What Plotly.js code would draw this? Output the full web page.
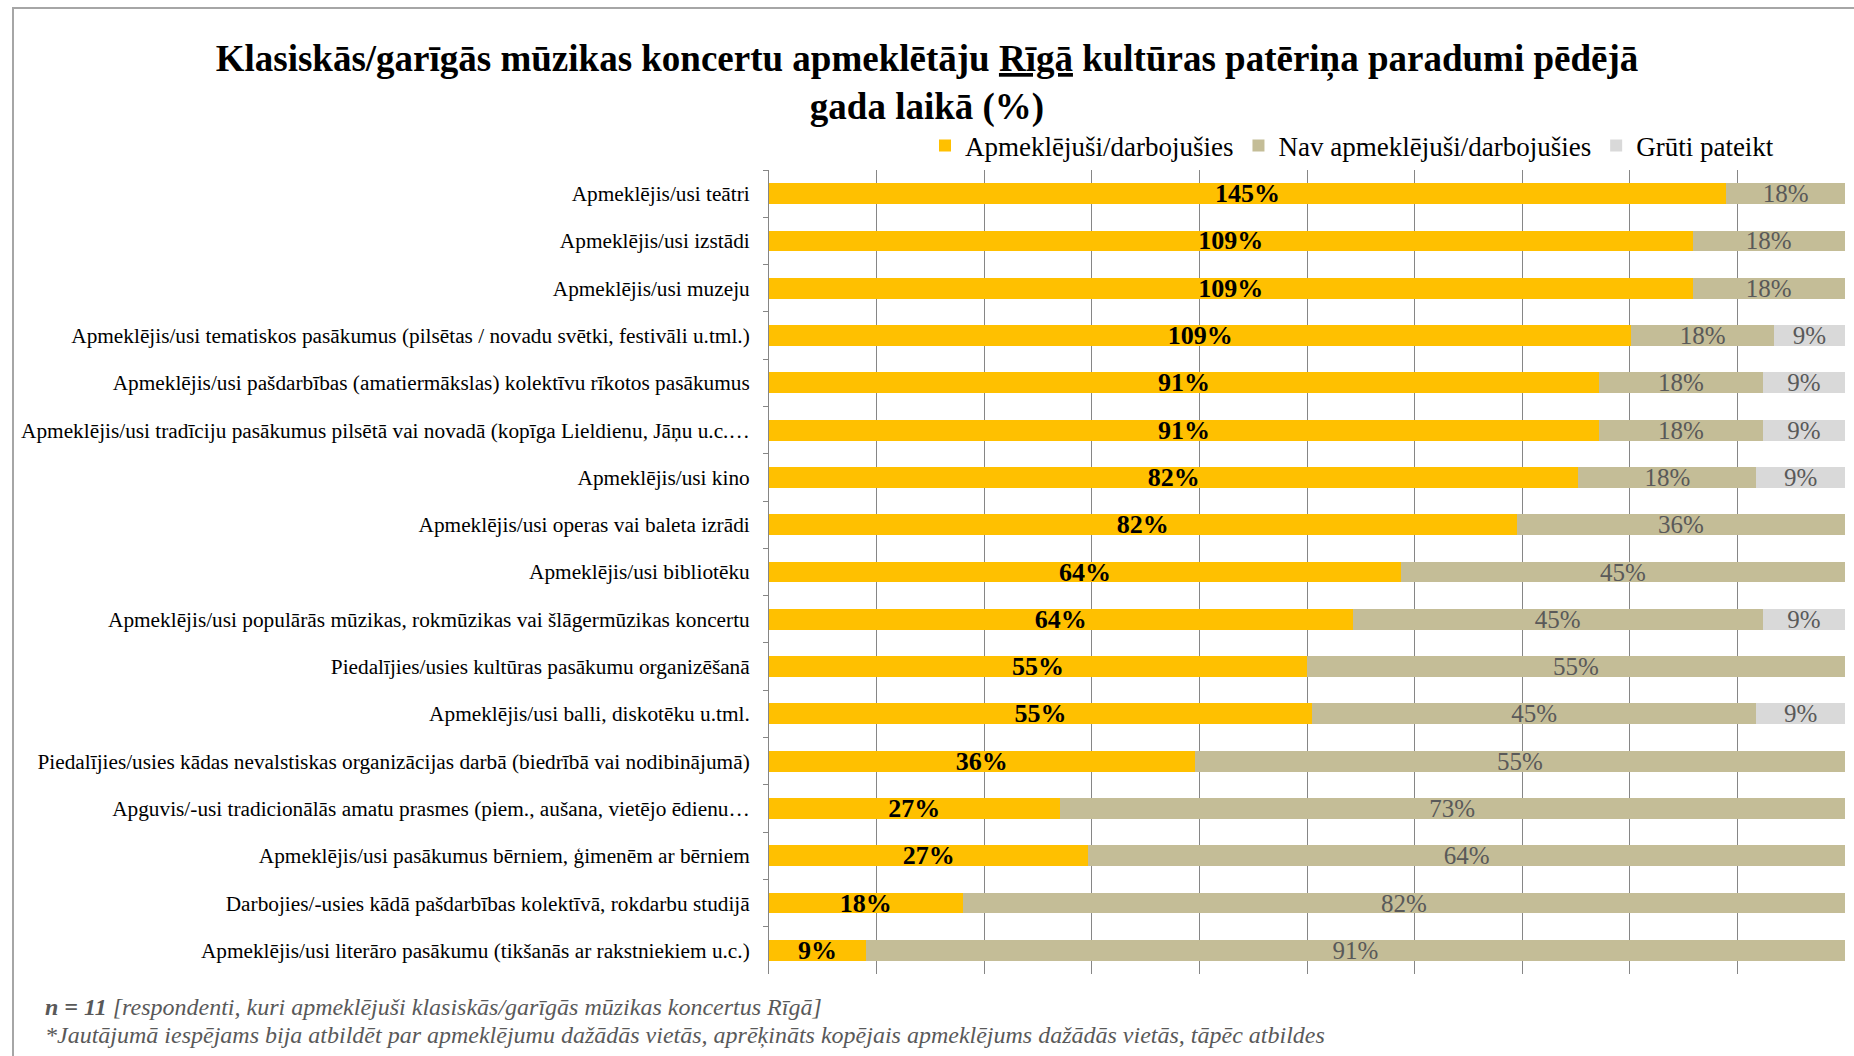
<!DOCTYPE html>
<html>
<head>
<meta charset="utf-8">
<script src="https://cdn.plot.ly/plotly-3.0.1.min.js"></script>
<style>
  html, body { margin: 0; padding: 0; background: #ffffff; }
  #wrap { position: relative; width: 1854px; height: 1056px; overflow: hidden; }
  #chart { position: absolute; left: 0; top: 0; width: 1854px; height: 1056px; }
  #frame { position: absolute; left: 12px; top: 7px; right: -5px; bottom: -5px;
           border-left: 2px solid #a6a6a6; border-top: 2px solid #a6a6a6; pointer-events: none; }
</style>
</head>
<body>
<div id="wrap">
  <div id="chart"></div>
  <div id="frame"></div>
</div>
<script>
const categories = [
  "Apmeklējis/usi teātri",
  "Apmeklējis/usi izstādi",
  "Apmeklējis/usi muzeju",
  "Apmeklējis/usi tematiskos pasākumus (pilsētas / novadu svētki, festivāli u.tml.)",
  "Apmeklējis/usi pašdarbības (amatiermākslas) kolektīvu rīkotos pasākumus",
  "Apmeklējis/usi tradīciju pasākumus pilsētā vai novadā (kopīga Lieldienu, Jāņu u.c.…",
  "Apmeklējis/usi kino",
  "Apmeklējis/usi operas vai baleta izrādi",
  "Apmeklējis/usi bibliotēku",
  "Apmeklējis/usi populārās mūzikas, rokmūzikas vai šlāgermūzikas koncertu",
  "Piedalījies/usies kultūras pasākumu organizēšanā",
  "Apmeklējis/usi balli, diskotēku u.tml.",
  "Piedalījies/usies kādas nevalstiskas organizācijas darbā (biedrībā vai nodibinājumā)",
  "Apguvis/-usi tradicionālās amatu prasmes (piem., aušana, vietējo ēdienu…",
  "Apmeklējis/usi pasākumus bērniem, ģimenēm ar bērniem",
  "Darbojies/-usies kādā pašdarbības kolektīvā, rokdarbu studijā",
  "Apmeklējis/usi literāro pasākumu (tikšanās ar rakstniekiem u.c.)"
];
const attended    = [145, 109, 109, 109, 91, 91, 82, 82, 64, 64, 55, 55, 36, 27, 27, 18, 9];
const notAttended = [18, 18, 18, 18, 18, 18, 18, 36, 45, 45, 55, 45, 55, 73, 64, 82, 91];
const hardToSay   = [0, 0, 0, 9, 9, 9, 9, 0, 0, 9, 0, 9, 0, 0, 0, 0, 0];
const seriesNames = ["Apmeklējuši/darbojušies", "Nav apmeklējuši/darbojušies", "Grūti pateikt"];
const xTicks = [0, 10, 20, 30, 40, 50, 60, 70, 80, 90, 100];

const FONT = "'Liberation Serif', 'Times New Roman', serif";
const lbl = arr => arr.map(v => v > 0 ? v + "%" : "");

function barTrace(name, vals, color, tf) {
  return {
    type: "bar", orientation: "h", name: name,
    y: categories, x: vals,
    marker: { color: color, line: { width: 0 } },
    text: lbl(vals), textposition: "inside", insidetextanchor: "middle",
    constraintext: "none", textangle: 0,
    textfont: tf, hoverinfo: "skip"
  };
}

const data = [
  barTrace(seriesNames[0], attended, "#FFC000", { family: FONT, size: 26, color: "#000000", weight: "bold" }),
  barTrace(seriesNames[1], notAttended, "#C4BD97", { family: FONT, size: 25, color: "#595959" }),
  barTrace(seriesNames[2], hardToSay, "#D9D9D9", { family: FONT, size: 25, color: "#595959" })
];

const L = 769, R = 1845, T = 170, B = 974;
const pw = R - L, ph = B - T;

const layout = {
  width: 1854, height: 1056,
  margin: { l: L, r: 1854 - R, t: T, b: 1056 - B, pad: 0 },
  paper_bgcolor: "#ffffff", plot_bgcolor: "#ffffff",
  font: { family: FONT, color: "#000000" },
  barmode: "stack", barnorm: "percent", bargap: 0.56,
  showlegend: true,
  title: {
    text: "<b>Klasiskās/garīgās mūzikas koncertu apmeklētāju <u>Rīgā</u> kultūras patēriņa paradumi pēdējā<br>gada laikā (%)</b>",
    font: { family: FONT, size: 37, color: "#000000" },
    x: 0.5, xanchor: "center", xref: "container",
    y: 1 - 71 / 1056, yanchor: "top", yref: "container"
  },
  legend: {
    orientation: "h", x: (1779 - L) / pw, xanchor: "right",
    y: 1 + (T - 146) / ph, yanchor: "middle",
    font: { family: FONT, size: 27, color: "#000000" },
    itemwidth: 30, traceorder: "normal", bgcolor: "rgba(0,0,0,0)"
  },
  xaxis: {
    range: [0, 100], tickvals: xTicks, showticklabels: false,
    showgrid: true, gridcolor: "#868686", gridwidth: 1,
    zeroline: false, showline: false, ticks: "", fixedrange: true
  },
  yaxis: {
    type: "category", autorange: "reversed",
    showline: true, linecolor: "#868686", linewidth: 1,
    ticks: "outside", tickson: "boundaries", ticklen: 5, tickcolor: "#868686",
    ticklabelstandoff: 14,
    tickfont: { family: FONT, size: 21.3, color: "#000000" },
    showgrid: false, zeroline: false, fixedrange: true
  },
  annotations: [
    {
      xref: "paper", yref: "paper", x: (43 - L) / pw, y: (B - 1007) / ph,
      xanchor: "left", yanchor: "middle", showarrow: false,
      text: "<i><b>n = 11</b> [respondenti, kuri apmeklējuši klasiskās/garīgās mūzikas koncertus Rīgā]</i>",
      font: { family: FONT, size: 24, color: "#595959" }
    },
    {
      xref: "paper", yref: "paper", x: (43 - L) / pw, y: (B - 1035) / ph,
      xanchor: "left", yanchor: "middle", showarrow: false,
      text: "<i>*Jautājumā iespējams bija atbildēt par apmeklējumu dažādās vietās, aprēķināts kopējais apmeklējums dažādās vietās, tāpēc atbildes</i>",
      font: { family: FONT, size: 24, color: "#595959" }
    }
  ]
};

Plotly.newPlot("chart", data, layout, { displayModeBar: false, staticPlot: true });
</script>
</body>
</html>
